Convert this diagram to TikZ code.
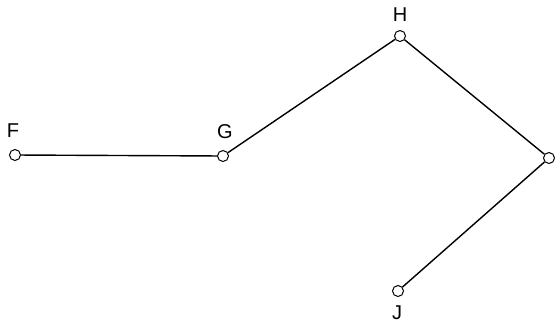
\documentclass[tikz,border=0pt]{standalone}
\usepackage{fontspec}
\setmainfont{Liberation Sans}
\begin{document}
\begin{tikzpicture}[x=1pt, y=-1pt,
    pt/.style={circle, draw, fill=white, line width=1pt, inner sep=0pt, minimum size=11pt},
    lbl/.style={font=\fontsize{20}{24}\selectfont},
    seg/.style={line width=1.4pt}]
        \useasboundingbox (0,0) rectangle (560,330);
        % Points of the path
        \node[pt] (F) at (15,155) {};
        \node[pt] (G) at (223,156) {};
        \node[pt] (H) at (400,36) {};
        \node[pt] (K) at (549,158) {};
        \node[pt] (J) at (398,291) {};
        
        % Labels
        \node[lbl] (lF) at (13,131) {F};
        \node[lbl] (lG) at (225,132) {G};
        \node[lbl] (lH) at (400,15) {H};
        \node[lbl] (lJ) at (397,313) {J};
        
        % Segments
        \draw[seg] (F) -- (G);
        \draw[seg] (G) -- (H);
        \draw[seg] (H) -- (K);
        \draw[seg] (K) -- (J);
    \end{tikzpicture}
\end{document}
